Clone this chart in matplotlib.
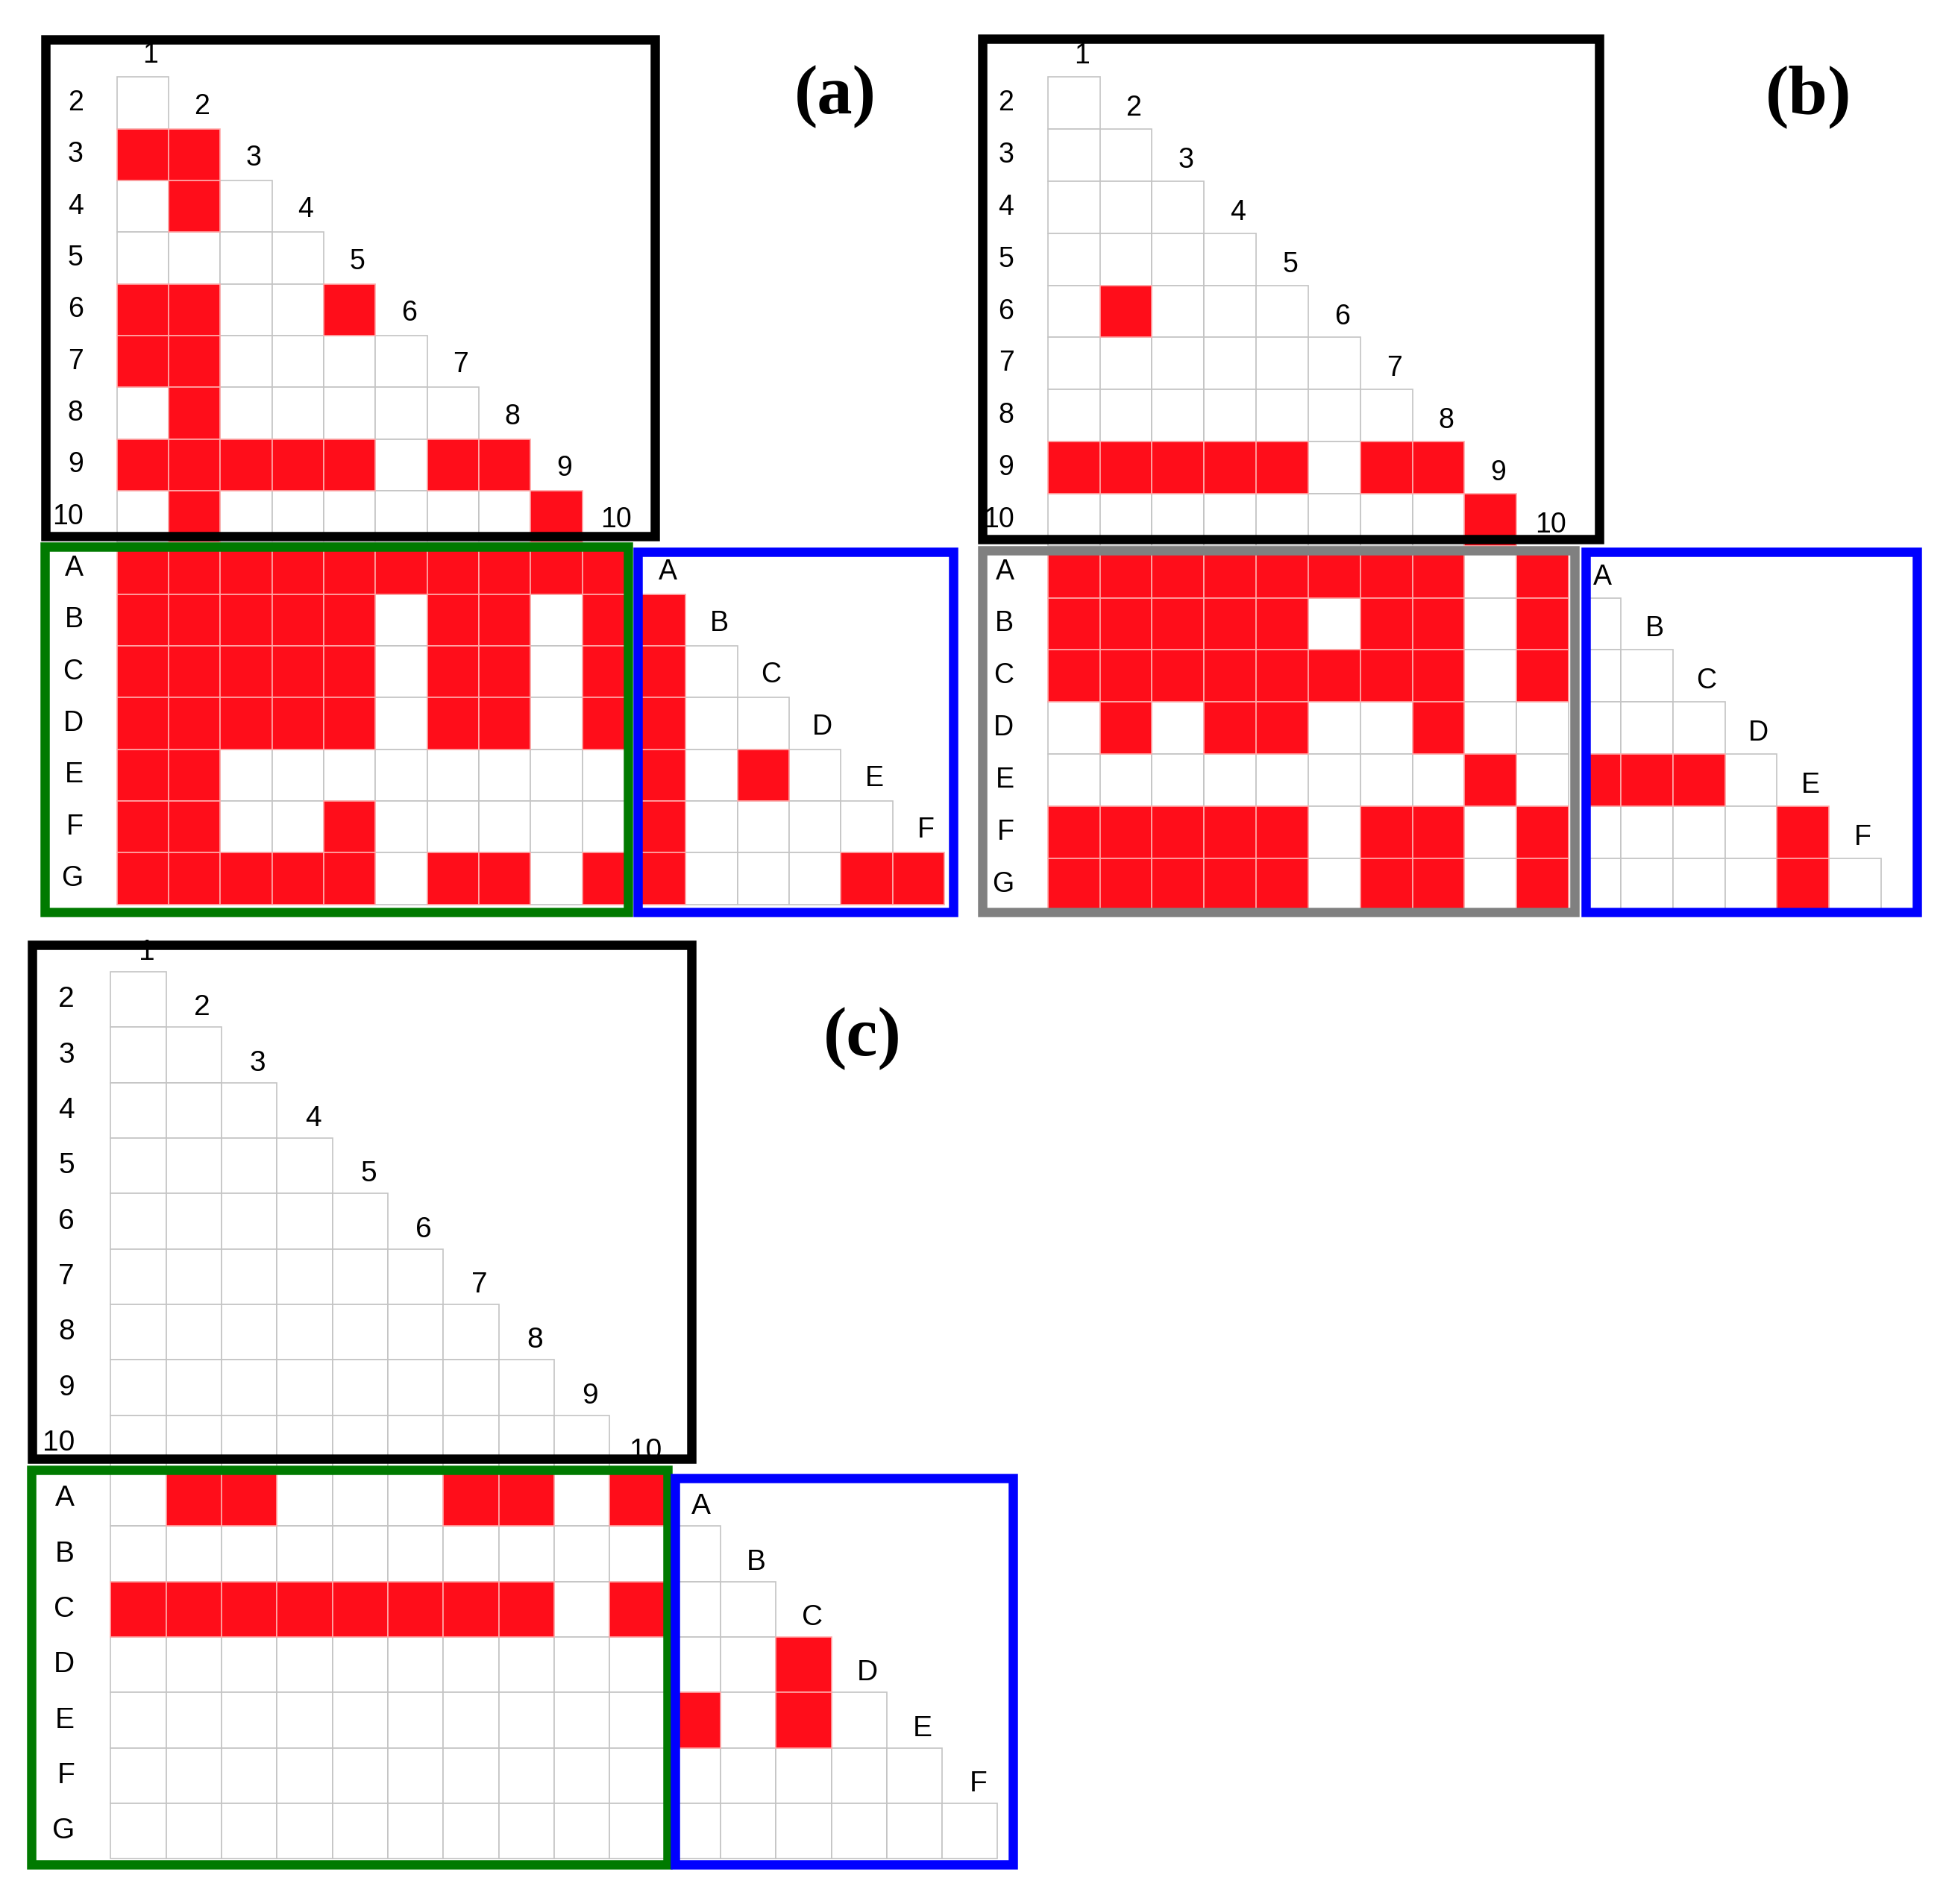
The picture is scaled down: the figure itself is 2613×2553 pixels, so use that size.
import matplotlib.pyplot as plt
from matplotlib.patches import Rectangle

# item labels
nums = [str(k) for k in range(1, 11)]
lets = ['A', 'B', 'C', 'D', 'E', 'F', 'G']

# lower triangle (rows 2..10, cols 1..9), 1 = red
tri_a = [[0], [1, 1], [0, 1, 0], [0, 0, 0, 0], [1, 1, 0, 0, 1],
         [1, 1, 0, 0, 0, 0], [0, 1, 0, 0, 0, 0, 0],
         [1, 1, 1, 1, 1, 0, 1, 1], [0, 1, 0, 0, 0, 0, 0, 0, 1]]
tri_b = [[0], [0, 0], [0, 0, 0], [0, 0, 0, 0], [0, 1, 0, 0, 0],
         [0, 0, 0, 0, 0, 0], [0, 0, 0, 0, 0, 0, 0],
         [1, 1, 1, 1, 1, 0, 1, 1], [0, 0, 0, 0, 0, 0, 0, 0, 1]]
tri_c = [[0] * n for n in range(1, 10)]

# rectangle (rows A..G, cols 1..10)
rect_a = [[1, 1, 1, 1, 1, 1, 1, 1, 1, 1],
          [1, 1, 1, 1, 1, 0, 1, 1, 0, 1],
          [1, 1, 1, 1, 1, 0, 1, 1, 0, 1],
          [1, 1, 1, 1, 1, 0, 1, 1, 0, 1],
          [1, 1, 0, 0, 0, 0, 0, 0, 0, 0],
          [1, 1, 0, 0, 1, 0, 0, 0, 0, 0],
          [1, 1, 1, 1, 1, 0, 1, 1, 0, 1]]
rect_b = [[1, 1, 1, 1, 1, 1, 1, 1, 0, 1],
          [1, 1, 1, 1, 1, 0, 1, 1, 0, 1],
          [1, 1, 1, 1, 1, 1, 1, 1, 0, 1],
          [0, 1, 0, 1, 1, 0, 0, 1, 0, 0],
          [0, 0, 0, 0, 0, 0, 0, 0, 1, 0],
          [1, 1, 1, 1, 1, 0, 1, 1, 0, 1],
          [1, 1, 1, 1, 1, 0, 1, 1, 0, 1]]
rect_c = [[0, 1, 1, 0, 0, 0, 1, 1, 0, 1],
          [0, 0, 0, 0, 0, 0, 0, 0, 0, 0],
          [1, 1, 1, 1, 1, 1, 1, 1, 0, 1],
          [0] * 10, [0] * 10, [0] * 10, [0] * 10]

# small triangle (rows B..G, cols A..F)
sub_a = [[1], [1, 0], [1, 0, 0], [1, 0, 1, 0], [1, 0, 0, 0, 0],
         [1, 0, 0, 0, 1, 1]]
sub_b = [[0], [0, 0], [0, 0, 0], [1, 1, 1, 0], [0, 0, 0, 0, 1],
         [0, 0, 0, 0, 1, 0]]
sub_c = [[0], [0, 0], [0, 0, 1], [1, 0, 1, 0], [0, 0, 0, 0, 0],
         [0, 0, 0, 0, 0, 0]]

RED = '#ff0d1a'
GRID = '#c4c4c4'
W, H = 1568.0, 1532.0  # layout reference size

fig = plt.figure(figsize=(26.13, 25.53), dpi=100)
fig.patch.set_facecolor('white')


def cell(ax, x, y, on, clip=None):
    p = Rectangle((x, y), 1, 1, facecolor=RED if on else 'white',
                  edgecolor='#ffa8a8' if on else GRID, linewidth=1.2,
                  zorder=1.5 if on else 1)
    ax.add_patch(p)
    if clip is not None:
        p.set_clip_path(clip)


def frame(ax, box, col, lw):
    a, b, c, d = box
    p = Rectangle((a, b), c - a, d - b, fill=False, edgecolor=col,
                  linewidth=lw, joinstyle='miter', zorder=5)
    ax.add_patch(p)
    clip = Rectangle((a, b), c - a, d - b, transform=ax.transData)
    return clip


def panel(ox, oy, u, tri, rect, sub, boxes, cols, letter, lxy, dy, fs):
    x0, x1, y0, y1 = -2.0, 17.5, -1.5, 17.0
    ax = fig.add_axes([(ox + x0 * u) / W, 1 - (oy + y1 * u) / H,
                       (x1 - x0) * u / W, (y1 - y0) * u / H])
    ax.set_xlim(x0, x1)
    ax.set_ylim(y1, y0)
    ax.axis('off')
    frame(ax, boxes[0], 'black', 9)
    clip_rect = frame(ax, boxes[1], cols[0], 9)
    clip_sub = frame(ax, boxes[2], '#0000ff', 9)
    txt = dict(fontsize=fs, family='Liberation Sans', va='center', zorder=3)
    # lower triangle
    for r, row in enumerate(tri):
        for c, v in enumerate(row):
            cell(ax, c, r, v)
        ax.text(-0.65, r + 0.5, nums[r + 1], ha='right', **txt)
    for k in range(10):
        ax.text(k + 0.65, k + dy, nums[k], ha='center', **txt)
    # rectangle
    for r, row in enumerate(rect):
        for c, v in enumerate(row):
            cell(ax, c, 9 + r, v, clip_rect)
        ax.text(-0.65, 9.5 + r, lets[r], ha='right', **txt)
    # small triangle
    for r, row in enumerate(sub):
        for c, v in enumerate(row):
            cell(ax, 10 + c, 10 + r, v, clip_sub)
    for k in range(6):
        ax.text(10.65 + k, 10 + k + dy, lets[k], ha='center', **txt)
    ax.text(lxy[0], lxy[1], letter, fontsize=68, family='Liberation Serif',
            fontweight='bold', ha='center', va='center', zorder=3)


panel(94, 62, 41.6, tri_a, rect_a, sub_a,
      [(-1.38, -0.73, 10.40, 8.88), (-1.39, 9.09, 9.88, 16.15),
       (10.07, 9.18, 16.18, 16.15)], ['#007a00'],
      '(a)', (13.9, 0.38), -0.43, 27)

panel(843, 62, 41.9, tri_b, rect_b, sub_b,
      [(-1.26, -0.73, 10.58, 8.87), (-1.26, 9.09, 10.12, 16.04),
       (10.33, 9.12, 16.69, 16.04)], ['#808080'],
      '(b)', (14.6, 0.38), -0.40, 27)

panel(89, 782, 44.6, tri_c, rect_c, sub_c,
      [(-1.42, -0.48, 10.48, 8.78), (-1.43, 8.99, 10.04, 16.10),
       (10.18, 9.13, 16.28, 16.10)], ['#007a00'],
      '(c)', (13.56, 1.21), -0.35, 28)

fig.savefig('out.png', dpi=100, facecolor='white')
